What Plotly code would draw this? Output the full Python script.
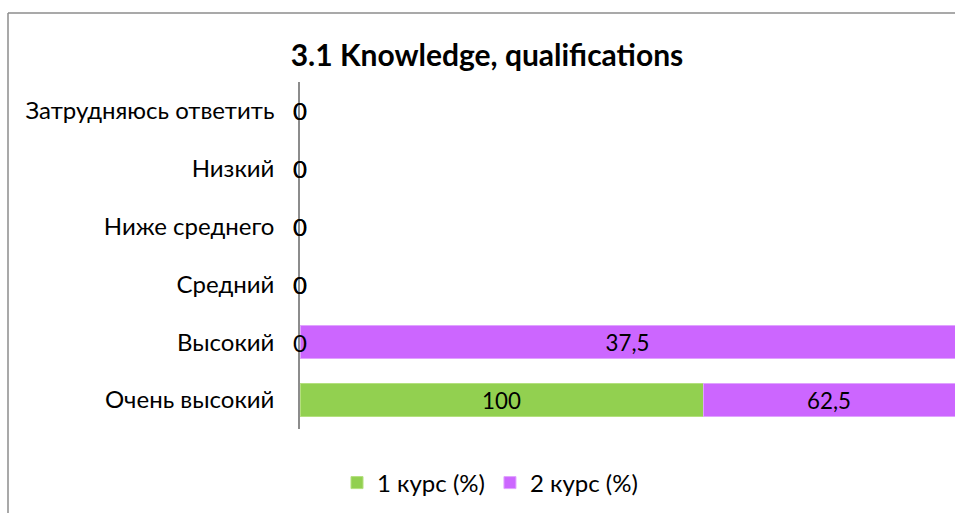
import plotly.graph_objects as go

categories = ["Очень высокий", "Высокий", "Средний", "Ниже среднего", "Низкий", "Затрудняюсь ответить"]
course1 = [100, 0, 0, 0, 0, 0]
course2 = [62.5, 37.5, 0, 0, 0, 0]
series_names = ["1 курс (%)", "2 курс (%)"]
colors = ["#92D050", "#CC66FF"]
borders = ["#B4E07E", "#E0A3FF"]

W, H = 955, 513
L, R, T, B = 300, 0, 82, 84
FONT = "Lato, 'Open Sans', sans-serif"
FS = 24

def fmt(v):
    return ("%g" % v).replace(".", ",")

totals = [a + b for a, b in zip(course1, course2)]
series = [course1, course2]

fig = go.Figure()
annotations = []
for si, vals in enumerate(series):
    pct = [(v / t * 100) if t else 0 for v, t in zip(vals, totals)]
    fig.add_trace(go.Bar(
        y=categories, x=pct, orientation="h", name=series_names[si],
        marker=dict(color=colors[si],
                    line=dict(color=borders[si], width=[1 if v else 0 for v in vals])),
        text=[fmt(v) if v else "" for v in vals],
        textposition="inside", insidetextanchor="middle",
        textfont=dict(family=FONT, size=FS, color="#000000"),
        hoverinfo="skip",
    ))
    for cat, v in zip(categories, vals):
        if v == 0:
            annotations.append(dict(x=0, y=cat, xref="x", yref="y", text="0", showarrow=False,
                                    font=dict(family=FONT, size=FS, color="#000000"),
                                    xanchor="center", yanchor="middle"))

# chart frame (partly outside the visible area)
px = lambda x: (x - L) / (W - L - R)
py = lambda y: (H - B - y) / (H - T - B)
shapes = [
    dict(type="line", xref="paper", yref="paper", x0=px(8), x1=px(8), y0=py(13), y1=py(520),
         line=dict(color="#8C8C8C", width=1.5)),
    dict(type="line", xref="paper", yref="paper", x0=px(8), x1=px(970), y0=py(13), y1=py(13),
         line=dict(color="#8C8C8C", width=1.5)),
]

fig.update_layout(
    width=W, height=H,
    margin=dict(l=L, r=R, t=T, b=B),
    barmode="stack", bargap=0.43,
    paper_bgcolor="white", plot_bgcolor="white",
    font=dict(family=FONT, size=FS, color="#000000"),
    title=dict(text="<b>3.1 Knowledge, qualifications</b>", x=487 / W, xref="container",
               y=1 - 55 / H, yref="container", xanchor="center", yanchor="middle",
               font=dict(family=FONT, size=30, color="#000000")),
    xaxis=dict(range=[0, 100], showticklabels=False, showgrid=False, zeroline=False,
               showline=False, fixedrange=True),
    yaxis=dict(categoryorder="array", categoryarray=categories, showgrid=False, zeroline=False,
               showline=True, linecolor="#8C8C8C", linewidth=1.5, ticks="",
               ticklabelstandoff=19, tickfont=dict(family=FONT, size=FS, color="#000000")),
    legend=dict(orientation="h", xref="container", yref="container", x=490 / W, y=1 - 483 / H,
                xanchor="center", yanchor="middle", font=dict(family=FONT, size=FS, color="#000000"),
                itemwidth=30, traceorder="normal"),
    annotations=annotations,
    shapes=shapes,
    showlegend=True,
)

fig.write_html("out.html", config={"displayModeBar": False},
               post_script="document.body.style.margin='0';document.body.style.overflow='hidden';")
